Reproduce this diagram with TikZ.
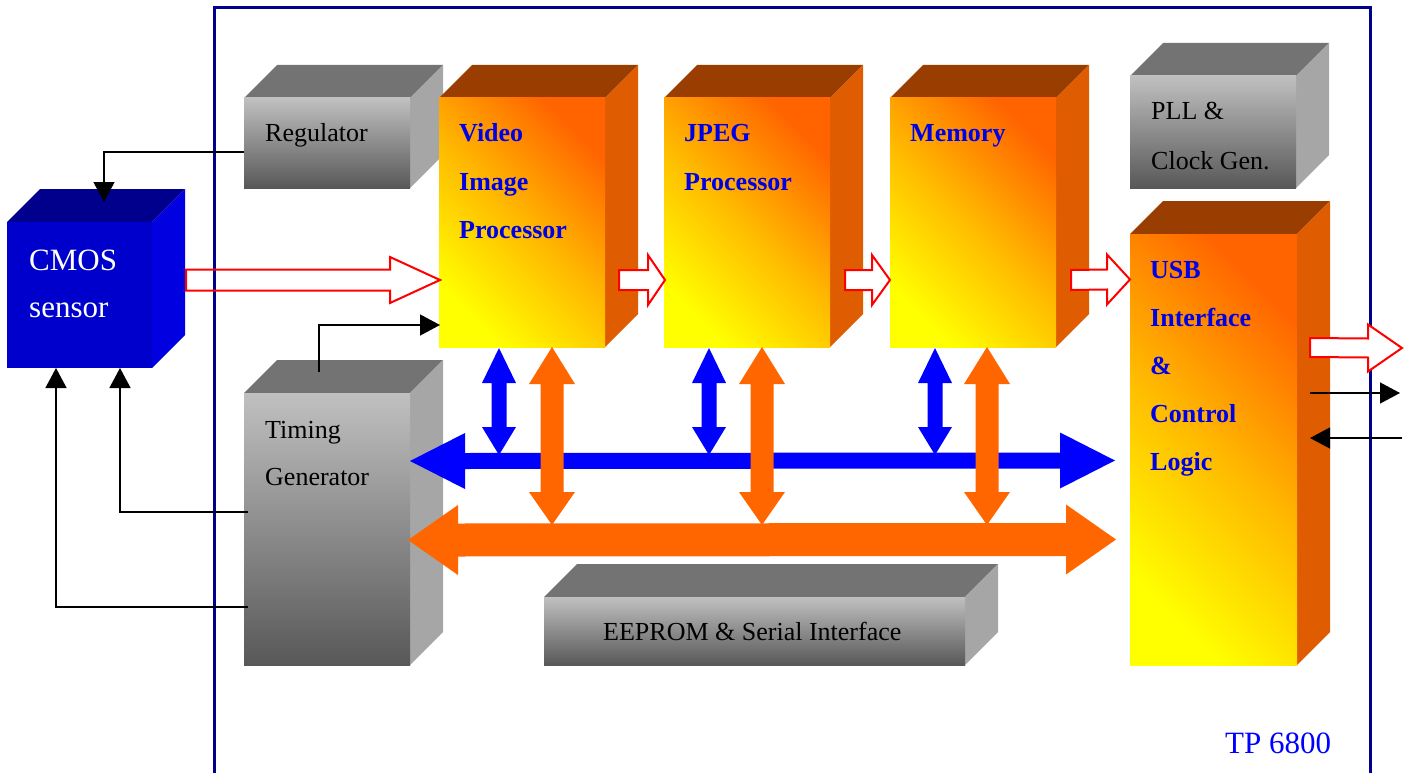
\documentclass[tikz,border=0pt]{standalone}
\usepackage{fontspec}
\setmainfont{Liberation Serif}
\usetikzlibrary{calc,arrows.meta}
\definecolor{frameC}{RGB}{0,0,140}
\definecolor{cmosFr}{RGB}{0,0,204}
\definecolor{cmosTp}{RGB}{0,0,140}
\definecolor{cmosSd}{RGB}{0,0,224}
\definecolor{grayHi}{RGB}{192,192,192}
\definecolor{grayLo}{RGB}{88,88,88}
\definecolor{grayTp}{RGB}{115,115,115}
\definecolor{graySd}{RGB}{166,166,166}
\definecolor{orHi}{RGB}{255,100,0}
\definecolor{orMid}{RGB}{255,185,0}
\definecolor{orLo}{RGB}{255,255,0}
\definecolor{orTp}{RGB}{153,61,0}
\definecolor{orSd}{RGB}{224,92,0}
\definecolor{busB}{RGB}{0,0,255}
\definecolor{busO}{RGB}{255,102,0}
\definecolor{arrR}{RGB}{255,0,0}
\definecolor{txtB}{RGB}{0,0,230}
\tikzset{
  graytop/.style={fill=grayTp},
  grayside/.style={fill=graySd},
  grayfront/.style={top color=grayHi, bottom color=grayLo},
  ortop/.style={fill=orTp},
  orside/.style={fill=orSd},
  orfront/.style={top color=orHi, bottom color=orLo, middle color=orMid, shading angle=-45},
  cmostop/.style={fill=cmosTp},
  cmosside/.style={fill=cmosSd},
  cmosfront/.style={fill=cmosFr},
  frameline/.style={draw=frameC, line width=3pt},
  hollow/.style={draw=arrR, line width=2pt, line join=miter},
  bbus/.style={fill=busB},
  obus/.style={fill=busO},
  conn/.style={draw=black, line width=1.3pt, -{Triangle[length=20pt,width=21pt]}},
  lbl/.style={font=\fontsize{26}{30}\selectfont, anchor=base west, inner sep=0},
  blbl/.style={font=\fontsize{26}{30}\selectfont\bfseries, text=txtB, anchor=base west, inner sep=0},
  wlbl/.style={font=\fontsize{31}{36}\selectfont, text=white, anchor=base west, inner sep=0},
  tplbl/.style={font=\fontsize{31}{36}\selectfont, text=busB, anchor=base west, inner sep=0}
}
\newcommand\solidbox[6]{%
  \fill[#6top] (#2,#3) -- ++(33,-33) -- ++(#4,0) -- ++(-33,33) -- cycle;
  \fill[#6side] (#2+#4,#3) -- ++(33,-33) -- ++(0,#5) -- ++(-33,33) -- cycle;
  \node[#6front, inner sep=0, outer sep=0, minimum width=#4pt, minimum height=#5pt, anchor=north west] (#1) at (#2,#3) {};
}
\newcommand\hollowarrow[6]{%
  \draw[hollow,#6] ($(#1)+(0,-#3)$) -- ($(#2)+(-#5,-#3)$) -- ($(#2)+(-#5,-#4)$) -- (#2)
    -- ($(#2)+(-#5,#4)$) -- ($(#2)+(-#5,#3)$) -- ($(#1)+(0,#3)$) -- cycle;
}
\newcommand\hdarrow[6]{%
  \fill[#6] (#1) -- ($(#1)+(#5,-#4)$) -- ($(#1)+(#5,-#3)$) -- ($(#2)+(-#5,-#3)$) -- ($(#2)+(-#5,-#4)$)
    -- (#2) -- ($(#2)+(-#5,#4)$) -- ($(#2)+(-#5,#3)$) -- ($(#1)+(#5,#3)$) -- ($(#1)+(#5,#4)$) -- cycle;
}
\newcommand\vdarrow[7]{%
  \fill[#7] (#1) -- ($(#1)+(#4,#5)$) -- ($(#1)+(#3,#5)$) -- ($(#2)+(#3,-#6)$) -- ($(#2)+(#4,-#6)$)
    -- (#2) -- ($(#2)+(-#4,-#6)$) -- ($(#2)+(-#3,-#6)$) -- ($(#1)+(-#3,#5)$) -- ($(#1)+(-#4,#5)$) -- cycle;
}
\begin{document}
\begin{tikzpicture}[x=1pt,y=-1pt]
\useasboundingbox (0,0) rectangle (1410,773);
% frame
\draw[frameline] (214,773) -- (214,8) -- (1370,8) -- (1370,773);
% blocks
\solidbox{cmos}{7}{222}{145}{146}{cmos}
\solidbox{reg}{244}{98}{166}{90}{gray}
\solidbox{timing}{244}{393}{166}{272}{gray}
\solidbox{vip}{439}{98}{166}{249}{or}
\solidbox{jpeg}{664}{98}{166}{249}{or}
\solidbox{mem}{890}{98}{166}{249}{or}
\solidbox{pll}{1130}{76}{166}{112}{gray}
\solidbox{usb}{1130}{234}{167}{431}{or}
\solidbox{eeprom}{544}{597}{421}{68}{gray}
% bus end points
\coordinate (bL) at ($(timing.east)+(0,-68)$);
\coordinate (bR) at ($(usb.west)+(-15,11)$);
\coordinate (oL) at ($(timing.east)+(-2,11)$);
\coordinate (oR) at ($(usb.west)+(-14,90)$);
\coordinate (vb1t) at ($(vip.south)+(-23,1)$);
\coordinate (vb1b) at ($(vip.south)+(-23,108)$);
\coordinate (vb2t) at ($(jpeg.south)+(-38,1)$);
\coordinate (vb2b) at ($(jpeg.south)+(-38,108)$);
\coordinate (vb3t) at ($(mem.south)+(-38,1)$);
\coordinate (vb3b) at ($(mem.south)+(-38,108)$);
\coordinate (vo1t) at ($(vip.south)+(30,0)$);
\coordinate (vo1b) at ($(vip.south)+(30,178)$);
\coordinate (vo2t) at ($(jpeg.south)+(15,0)$);
\coordinate (vo2b) at ($(jpeg.south)+(15,178)$);
\coordinate (vo3t) at ($(mem.south)+(14,0)$);
\coordinate (vo3b) at ($(mem.south)+(14,178)$);
% blue bus
\hdarrow{bL}{bR}{8}{28}{55}{bbus}
\vdarrow{vb1t}{vb1b}{7.5}{17}{35}{28}{bbus}
\vdarrow{vb2t}{vb2b}{7.5}{17}{35}{28}{bbus}
\vdarrow{vb3t}{vb3b}{7.5}{17}{35}{28}{bbus}
% orange bus
\hdarrow{oL}{oR}{16.5}{35}{50}{obus}
\vdarrow{vo1t}{vo1b}{11.5}{23}{37}{33}{obus}
\vdarrow{vo2t}{vo2b}{11.5}{23}{37}{33}{obus}
\vdarrow{vo3t}{vo3b}{11.5}{23}{37}{33}{obus}
% data path arrows
\coordinate (a1s) at ($(cmos.east)+(34,-15)$);
\coordinate (a1e) at ($(vip.west)+(1,57.5)$);
\coordinate (a2s) at ($(vip.east)+(14,57.5)$);
\coordinate (a2e) at ($(jpeg.west)+(1,57.5)$);
\coordinate (a3s) at ($(jpeg.east)+(15,57.5)$);
\coordinate (a3e) at ($(mem.west)+(0,57.5)$);
\coordinate (a4s) at ($(mem.east)+(15,57.5)$);
\coordinate (a4e) at ($(usb.west)+(0,-170)$);
\coordinate (a5s) at ($(usb.east)+(13,-102)$);
\coordinate (a5e) at (1402,348);
\hollowarrow{a1s}{a1e}{10.5}{23}{50}{}
\hollowarrow{a2s}{a2e}{10}{25}{17}{fill=white}
\hollowarrow{a3s}{a3e}{10}{25}{18}{fill=white}
\hollowarrow{a4s}{a4e}{10}{25}{23}{fill=white}
\hollowarrow{a5s}{a5e}{9.5}{23.5}{34}{fill=white}
% control lines
\draw[conn] ([yshift=-9pt]reg.west) -| ($(cmos.north)+(24.5,-20)$);
\draw[conn] ($(timing.north)+(-8,-21)$) |- ($(vip.west)+(1,102.5)$);
\draw[conn] ($(timing.west)+(4,-17)$) -| ($(cmos.south)+(40.5,0)$);
\draw[conn] ($(timing.west)+(4,78)$) -| ($(cmos.south)+(-23.5,0)$);
\coordinate (usbR) at ($(usb.east)+(13,0)$);
\coordinate (ext1) at (1400,393);
\coordinate (ext2) at (1402,438);
\draw[conn] (usbR |- ext1) -- (ext1);
\draw[conn] (ext2) -- (usbR |- ext2);
% labels
\node[wlbl] (tcmos1) at (29,270) {CMOS};
\node[wlbl] (tcmos2) at (29,317) {sensor};
\node[lbl] (treg) at (265,142) {Regulator};
\node[lbl] (ttim1) at (265,438) {Timing};
\node[lbl] (ttim2) at (265,485) {Generator};
\node[lbl] (tpll1) at (1151,120) {PLL \&};
\node[lbl] (tpll2) at (1151,169) {Clock Gen.};
\node[lbl] (teep) at (603,640) {EEPROM \& Serial Interface};
\node[blbl] (tvip1) at (459,142) {Video};
\node[blbl] (tvip2) at (459,190) {Image};
\node[blbl] (tvip3) at (459,238) {Processor};
\node[blbl] (tjpg1) at (684,142) {JPEG};
\node[blbl] (tjpg2) at (684,190) {Processor};
\node[blbl] (tmem) at (910,142) {Memory};
\node[blbl] (tusb1) at (1150,278) {USB};
\node[blbl] (tusb2) at (1150,326) {Interface};
\node[blbl] (tusb3) at (1150,374) {\&};
\node[blbl] (tusb4) at (1150,422) {Control};
\node[blbl] (tusb5) at (1150,470) {Logic};
\node[tplbl] (ttp) at (1225,753) {TP 6800};
\end{tikzpicture}
\end{document}
